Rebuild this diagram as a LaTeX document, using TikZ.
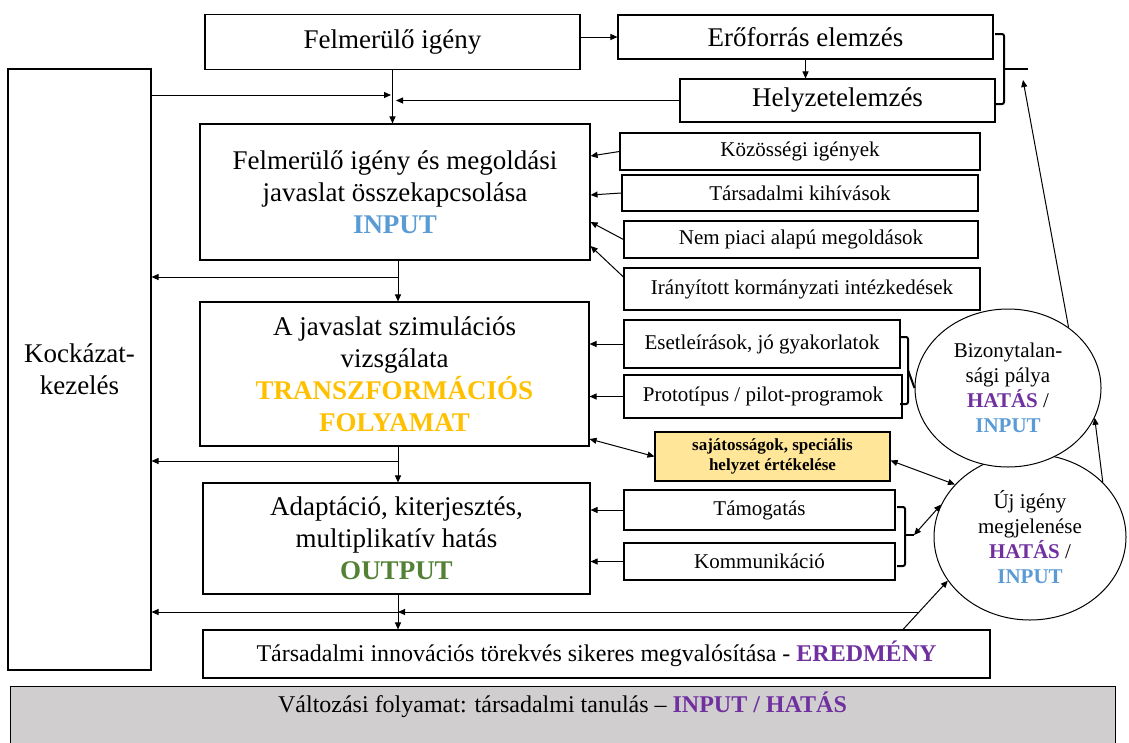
\documentclass[tikz,border=0pt]{standalone}
\usepackage{fontspec}
\setmainfont{Liberation Serif}
\usetikzlibrary{arrows.meta,shapes.geometric,calc}
\definecolor{cin}{HTML}{5B9BD5}
\definecolor{cgold}{HTML}{FFC000}
\definecolor{cgreen}{HTML}{538135}
\definecolor{pur}{HTML}{7030A0}
\definecolor{yel}{HTML}{FFE699}
\definecolor{grayc}{HTML}{D0CECE}
\begin{document}
\begin{tikzpicture}[x=1pt,y=-1pt,
  box/.style={draw, line width=1.1pt, fill=white, inner sep=0pt, align=center},
  big/.style={font=\fontsize{27}{32}\selectfont},
  small/.style={font=\fontsize{21}{25}\selectfont},
  arr/.style={-{Triangle[length=7pt,width=6pt]}, line width=1pt},
  darr/.style={{Triangle[length=7pt,width=6pt]}-{Triangle[length=7pt,width=6pt]}, line width=1pt},
  brk/.style={line width=2pt, rounded corners=2pt},
  ell/.style={draw, ellipse, line width=1pt, fill=white, inner sep=0pt, align=center, font=\fontsize{21}{25}\selectfont}]
\useasboundingbox (0,0) rectangle (1129,742);

% main column
\node[box,big,minimum width=375,minimum height=55] (fi) at (392.5,42) {Felmerülő igény};
\node[box,big,minimum width=375,minimum height=44] (ee) at (805.5,37) {Erőforrás elemzés};
\node[box,big,minimum width=315,minimum height=43] (hz) at (837.5,100.5) {Helyzetelemzés};
\node[box,big,minimum width=143,minimum height=601] (kk) at (79.5,369.5) {Kockázat-\\kezelés};
\node[box,big,minimum width=390,minimum height=136] (inp) at (395,192) {Felmerülő igény és megoldási\\javaslat összekapcsolása\\\textcolor{cin}{\textbf{INPUT}}};
\node[box,big,minimum width=389,minimum height=144] (tr) at (394.5,374) {A javaslat szimulációs\\vizsgálata\\\textcolor{cgold}{\textbf{TRANSZFORMÁCIÓS}}\\\textcolor{cgold}{\textbf{FOLYAMAT}}};
\node[box,big,minimum width=387,minimum height=111] (out) at (396.5,538.5) {Adaptáció, kiterjesztés,\\multiplikatív hatás\\\textcolor{cgreen}{\textbf{OUTPUT}}};
\node[box,minimum width=787,minimum height=48,font=\fontsize{24}{28}\selectfont] (tim) at (596.5,654) {Társadalmi innovációs törekvés sikeres megvalósítása - \textcolor{pur}{\textbf{EREDMÉNY}}};
\node[draw, line width=1pt, fill=grayc, minimum width=1105, text height=23pt, text depth=33pt, inner ysep=3pt, anchor=north, font=\fontsize{24}{28}\selectfont] (chg) at (562.5,686) {Változási folyamat: társadalmi tanulás – \textcolor{pur}{\textbf{INPUT / HATÁS}}};

% right boxes
\node[box,small,minimum width=360,minimum height=37] (kig) at (800,151.5) {Közösségi igények};
\node[box,small,minimum width=356,minimum height=36] (tk) at (800,193) {Társadalmi kihívások};
\node[box,small,minimum width=354,minimum height=37] (np) at (801,239.5) {Nem piaci alapú megoldások};
\node[box,small,minimum width=356,minimum height=42] (ik) at (802,289) {Irányított kormányzati intézkedések};
\node[box,small,minimum width=276,minimum height=48] (es) at (762,344) {Esetleírások, jó gyakorlatok};
\node[box,small,minimum width=278,minimum height=43] (pp) at (763,396.5) {Prototípus / pilot-programok};
\node[box,fill=yel,minimum width=235,minimum height=49,font=\bfseries\fontsize{17}{20}\selectfont] (yb) at (772.5,456.5) {sajátosságok, speciális\\helyzet értékelése};
\node[box,small,minimum width=271,minimum height=40] (tam) at (759.5,510) {Támogatás};
\node[box,small,minimum width=271,minimum height=37] (kom) at (759.5,561.5) {Kommunikáció};

% ellipses
\node[ell,minimum width=192,minimum height=166] (uj) at (1030,537) {Új igény\\megjelenése\\\textcolor{pur}{\textbf{HATÁS}} /\\\textcolor{cin}{\textbf{INPUT}}};
\node[ell,minimum width=186,minimum height=158] (bz) at (1008,388) {Bizonytalan-\\sági pálya\\\textcolor{pur}{\textbf{HATÁS}} /\\\textcolor{cin}{\textbf{INPUT}}};

% top connectors
\coordinate (jA) at (391,95);
\coordinate (jB) at (396,100);
\draw[arr] (fi.south) -- (fi.south |- inp.north);
\draw[arr] (kk.east |- jA) -- (jA);
\draw[arr] (hz.west) -- (jB |- hz.west);
\draw[arr] (fi.east |- ee.west) -- (ee.west);
\draw[arr] (ee.south) -- (ee.south |- hz.north);

% main vertical flow
\coordinate (j2) at (398,277);
\draw[arr] (inp.south -| j2) -- (tr.north -| j2);
\draw[arr] (j2) -- (kk.east |- j2);
\coordinate (j3) at (398,461);
\draw[arr] (tr.south -| j3) -- (out.north -| j3);
\draw[arr] (j3) -- (kk.east |- j3);
\coordinate (j4) at (398,612);
\draw[arr] (out.south -| j4) -- (tim.north -| j4);
\coordinate (jD) at (919,612);
\draw[arr] (jD) -- (j4);
\draw[arr] (j4) -- (kk.east |- j4);
\draw[arr] ([xshift=306.5pt]tim.north) -- (uj.208);

% inputs to INPUT box
\draw[arr] (kig.west) -- ([yshift=36pt]inp.east);
\draw[arr] (tk.west) -- ([yshift=-3pt]inp.east);
\draw[arr] (np.west) -- ([yshift=-30pt]inp.east);
\draw[arr] ([yshift=12pt]ik.west) -- ([yshift=-54pt]inp.east);

% inputs to TRANSZ box
\draw[arr] (es.west) -- (tr.east |- es.west);
\draw[arr] (pp.west) -- (tr.east |- pp.west);
\draw[darr] ([yshift=-65pt]tr.east) -- (yb.west);
\draw[darr] ([yshift=-4pt]yb.east) -- (uj.145);

% inputs to OUTPUT box
\draw[arr] (tam.west) -- (out.east |- tam.west);
\draw[arr] (kom.west) -- (out.east |- kom.west);

% brackets
\draw[brk] (995,34) -- (1004,34) -- (1004,104) -- (995,104);
\draw[brk] (1004,69) -- (1028,69) coordinate (b1t);
\draw[brk] (900,337) -- (908,337) -- (908,404) -- (900,404);
\draw[brk] (908,370) -- (bz.west);
\draw[brk] (897,507) -- (905,507) -- (905,566) -- (897,566);
\draw[brk] (905,535) -- (914,535) coordinate (b3t);
\draw[darr] (b3t) -- (uj.160);

% ellipse connectors
\draw[arr] (uj.37) -- (bz.341);
\draw[arr] (bz.45) -- ([xshift=-5pt,yshift=-11pt]b1t);
\end{tikzpicture}
\end{document}
